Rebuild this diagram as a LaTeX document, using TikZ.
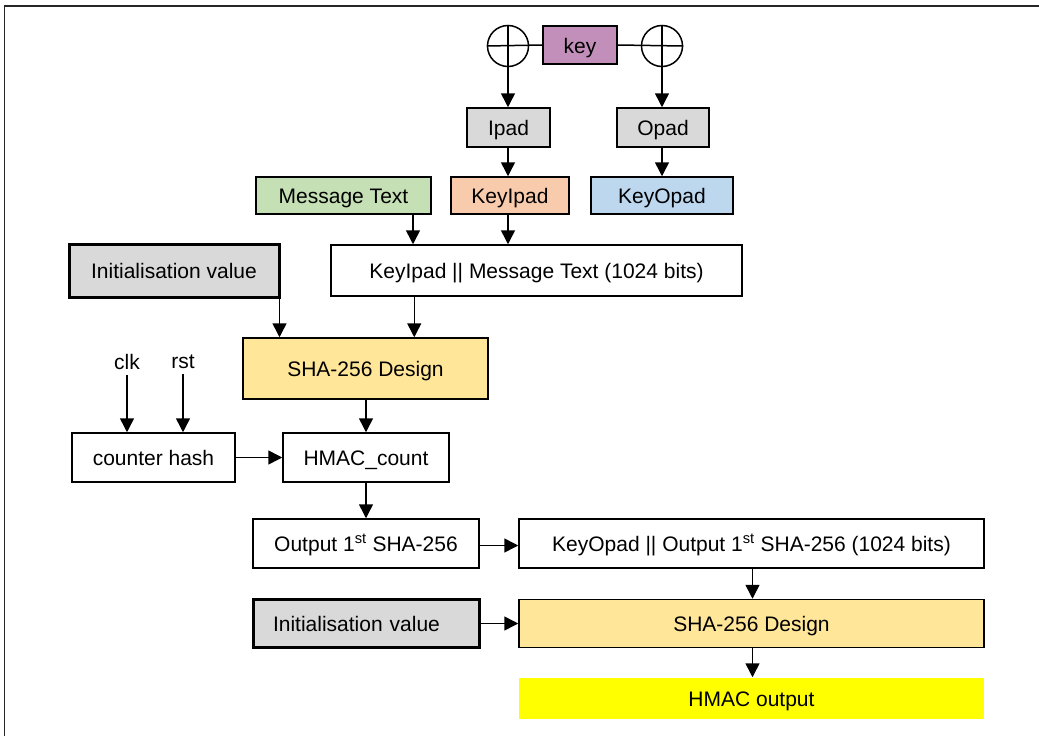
\documentclass[tikz,border=0pt]{standalone}
\usepackage{fontspec}
\setmainfont{Liberation Sans}
\usetikzlibrary{arrows.meta,calc}

\definecolor{keypurple}{RGB}{194,143,186}
\definecolor{padgray}{RGB}{217,217,217}
\definecolor{msggreen}{RGB}{197,224,180}
\definecolor{ipadpeach}{RGB}{248,203,173}
\definecolor{opadblue}{RGB}{189,215,238}
\definecolor{shayellow}{RGB}{255,230,153}
\definecolor{outyellow}{RGB}{255,255,0}

\tikzset{
  box/.style={draw=black, line width=1.5pt, inner sep=0pt, anchor=center,
              text height=20pt, text depth=4pt,
              font=\fontsize{21}{25}\selectfont},
  thickbox/.style={box, line width=3pt, fill=padgray},
  xorc/.style={circle, draw=black, line width=1.5pt, minimum size=41pt, inner sep=0pt},
  sig/.style={inner xsep=0pt, inner ysep=5pt, font=\fontsize{21}{25}\selectfont},
  arr/.style={line width=1.5pt, -{Triangle[length=14pt,width=14pt]}},
  wire/.style={line width=1.5pt},
}

\begin{document}
\begin{tikzpicture}[x=1pt,y=-1pt]
\useasboundingbox (0,0) rectangle (1039,736);

% outer frame (top and left edges only)
\draw[line width=1.5pt, black!85] (4.5,736) -- (4.5,6) -- (1039,6);

% key and the two XOR gates
\node[box, fill=keypurple, minimum width=74pt, minimum height=38pt] (key) at (580,45) {key};
\node[xorc] (xl) at (508,46) {};
\node[xorc] (xr) at (662,46) {};
\draw[wire] (xl.north) -- (xl.south);
\draw[wire] (xl.west) -- (key.west);
\draw[wire] (xr.north) -- (xr.south);
\draw[wire] (key.east) -- (xr.east);

% pads
\node[box, fill=padgray, minimum width=83pt, minimum height=39pt] (ipad) at (508.5,127.5) {Ipad};
\node[box, fill=padgray, minimum width=92pt, minimum height=39pt] (opad) at (663,127.5) {Opad};

\node[box, fill=msggreen, minimum width=175pt, minimum height=37pt] (msg) at (343.5,195.5) {Message Text};
\node[box, fill=ipadpeach, minimum width=118pt, minimum height=37pt] (keyipad) at (510,195.5) {KeyIpad};
\node[box, fill=opadblue, minimum width=142pt, minimum height=37pt] (keyopad) at (662,195.5) {KeyOpad};

\node[box, fill=white, minimum width=411pt, minimum height=51pt] (concat1) at (536.5,270.5) {KeyIpad || Message Text (1024 bits)};
\node[thickbox, minimum width=210pt, minimum height=53pt] (init1) at (174,270.5) {Initialisation value};

\node[box, fill=shayellow, minimum width=245pt, minimum height=61pt] (sha1) at (365.5,368.5) {SHA-256 Design};

% counter part
\node[sig] (clk) at (127,362) {clk};
\node[sig] (rst) at (183,362) {rst};
\node[box, fill=white, minimum width=163pt, minimum height=49pt] (counter) at (153.5,457.5) {counter hash};
\node[box, fill=white, minimum width=166pt, minimum height=49pt] (hcount) at (366,457.5) {HMAC\_count};

% second hash stage
\node[box, fill=white, minimum width=226pt, minimum height=49pt] (out1) at (366,543.5) {Output 1\textsuperscript{st} SHA-256};
\node[box, fill=white, minimum width=465pt, minimum height=49pt] (concat2) at (751.5,543.5) {KeyOpad || Output 1\textsuperscript{st} SHA-256 (1024 bits)};
\node[thickbox, minimum width=226pt, minimum height=48pt, text width=186pt, align=left, inner xsep=20pt] (init2) at (366,623.5) {Initialisation value};
\node[box, fill=shayellow, minimum width=465pt, minimum height=48pt] (sha2) at (751.5,623.5) {SHA-256 Design};
\node[box, draw=none, fill=outyellow, minimum width=465pt, minimum height=41pt] (hout) at (751.5,698.5) {HMAC output};

% tap points on box edges
\coordinate (msgtap) at ($(msg.south)+(69.5,0)$);
\coordinate (inittap) at ($(init1.south east)+(-1,0)$);
\coordinate (cattap) at ($(concat1.south west)+(84,0)$);
\coordinate (outtap) at ($(out1.east)+(0,2)$);
\coordinate (cat2tap) at ($(concat2.south)+(1,0)$);
\coordinate (sha2tap) at ($(sha2.south)+(1,0)$);

% connectors
\draw[arr] (xl.south) -- (xl.south |- ipad.north);
\draw[arr] (xr.south) -- (xr.south |- opad.north);
\draw[arr] (xl.south |- ipad.south) -- (xl.south |- keyipad.north);
\draw[arr] (xr.south |- opad.south) -- (xr.south |- keyopad.north);
\draw[arr] (msgtap) -- (msgtap |- concat1.north);
\draw[arr] (xl.south |- keyipad.south) -- (xl.south |- concat1.north);
\draw[arr] (inittap) -- (inittap |- sha1.north);
\draw[arr] (cattap) -- (cattap |- sha1.north);
\draw[arr] (clk.south) -- (clk.south |- counter.north);
\draw[arr] (rst.south) -- (rst.south |- counter.north);
\draw[arr] (counter.east) -- (hcount.west);
\draw[arr] (hcount.north |- sha1.south) -- (hcount.north);
\draw[arr] (hcount.south) -- (out1.north);
\draw[arr] (outtap) -- (outtap -| concat2.west);
\draw[arr] (cat2tap) -- (cat2tap |- sha2.north);
\draw[arr] (init2.east) -- (sha2.west);
\draw[arr] (sha2tap) -- (sha2tap |- hout.north);
\end{tikzpicture}
\end{document}
